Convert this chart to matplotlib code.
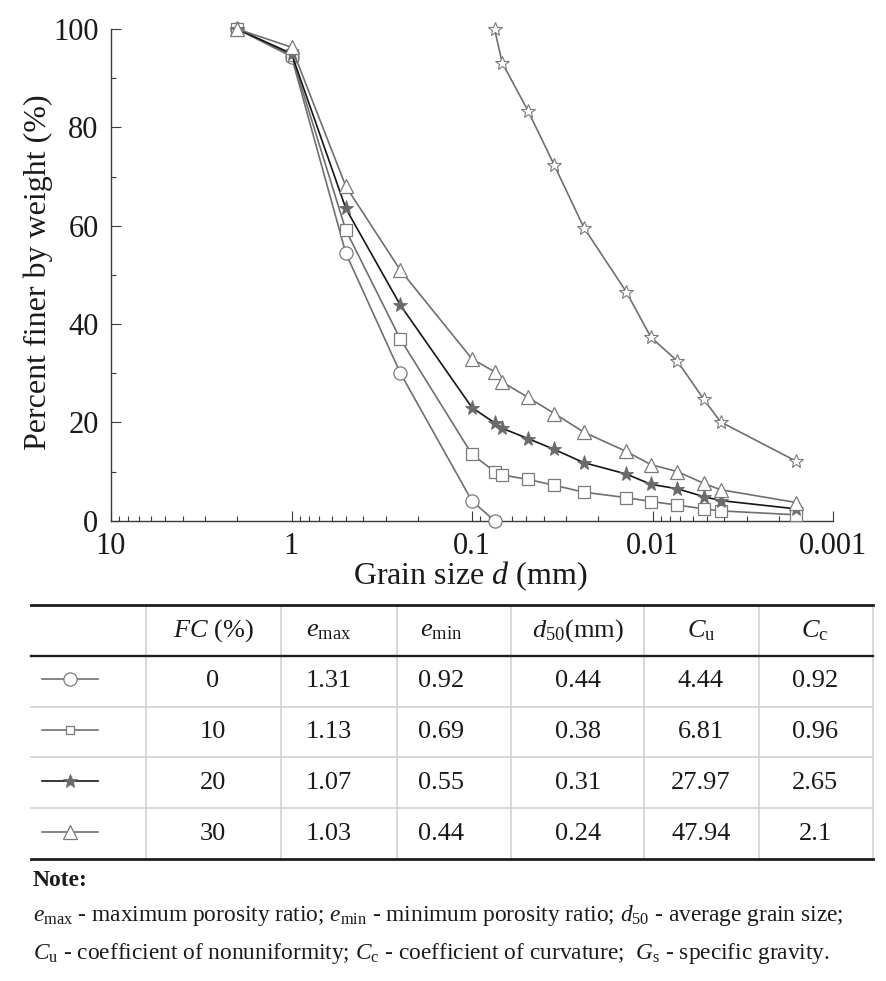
import matplotlib
matplotlib.use('Agg')
import matplotlib.pyplot as plt
from matplotlib.ticker import FixedLocator, FixedFormatter, LogLocator, NullFormatter, MultipleLocator

plt.rcParams['font.family'] = ['Liberation Serif', 'DejaVu Serif']
plt.rcParams['mathtext.fontset'] = 'custom'
plt.rcParams['mathtext.rm'] = 'Liberation Serif'
plt.rcParams['mathtext.it'] = 'Liberation Serif:italic'
plt.rcParams['mathtext.bf'] = 'Liberation Serif:bold'

# ---------------- data ----------------
sieve_d = [2, 1, 0.5, 0.25, 0.1]
hydro_d = [0.075, 0.068, 0.049, 0.035, 0.024, 0.014, 0.0102, 0.0073, 0.0052, 0.0042, 0.0016]
d_fc0 = sieve_d + [0.075]
d_mix = sieve_d + hydro_d
d_fines = hydro_d

p_fc0 = [100, 94.4, 54.4, 30.1, 4.0, 0]
p_fc10 = [100, 94.7, 59.1, 37.0, 13.5, 10.0, 9.3, 8.4, 7.2, 5.8, 4.7, 3.9, 3.2, 2.4, 2.0, 1.2]
p_fc20 = [100, 95.0, 63.5, 43.9, 23.0, 19.9, 18.8, 16.7, 14.5, 11.8, 9.5, 7.4, 6.5, 4.9, 4.1, 2.4]
p_fc30 = [100, 96.3, 68.0, 51.0, 32.9, 30.3, 28.2, 25.1, 21.8, 18.0, 14.1, 11.4, 10.0, 7.6, 6.3, 3.7]
p_fines = [100, 93.1, 83.4, 72.3, 59.6, 46.6, 37.3, 32.5, 24.7, 20.1, 12.1]

x_ticks = [10, 1, 0.1, 0.01, 0.001]
x_tick_labels = ['10', '1', '0.1', '0.01', '0.001']
y_ticks = [0, 20, 40, 60, 80, 100]

fc_values = ['0', '10', '20', '30']
e_max = ['1.31', '1.13', '1.07', '1.03']
e_min = ['0.92', '0.69', '0.55', '0.44']
d50 = ['0.44', '0.38', '0.31', '0.24']
Cu = ['4.44', '6.81', '27.97', '47.94']
Cc = ['0.92', '0.96', '2.65', '2.1']
headers = ['$\\mathit{FC}$ (%)', '$e_{\\mathrm{max}}$', '$e_{\\mathrm{min}}$',
           '$d_{50}$(mm)', '$C_{\\mathrm{u}}$', '$C_{\\mathrm{c}}$']

# ---------------- styles ----------------
GRAY = '#6f6f6f'
MGRAY = '#7a7a7a'
styles = [
    dict(marker='o', color=GRAY, mfc='white', mec=MGRAY, ms=9.5, mew=0.9),
    dict(marker='s', color=GRAY, mfc='white', mec=MGRAY, ms=8.0, mew=0.9),
    dict(marker='*', color='#151515', mfc='#6a6a6a', mec='#6a6a6a', ms=11, mew=0.6),
    dict(marker='^', color=GRAY, mfc='white', mec=MGRAY, ms=9.5, mew=0.9),
]
legend_scale = [1.0, 0.8, 0.95, 1.0]
fines_style = dict(marker='*', color=GRAY, mfc='white', mec=MGRAY, ms=10, mew=0.8)

W, H = 886, 981
fig = plt.figure(figsize=(W / 100, H / 100), dpi=100)

L, R, T, B = 111, 833, 29, 520.7
ax = fig.add_axes([L / W, 1 - B / H, (R - L) / W, (B - T) / H])

series = [(d_fc0, p_fc0), (d_mix, p_fc10), (d_mix, p_fc20), (d_mix, p_fc30)]
for (dd, pp), st in zip(series, styles):
    ax.plot(dd, pp, lw=1.2, clip_on=False, zorder=3, **st)
ax.plot(d_fines, p_fines, lw=1.2, clip_on=False, zorder=3, **fines_style)

ax.set_xscale('log')
ax.set_xlim(10, 0.001)
ax.set_ylim(0, 100)

ax.xaxis.set_major_locator(FixedLocator(x_ticks))
ax.xaxis.set_major_formatter(FixedFormatter(x_tick_labels))
ax.xaxis.set_minor_locator(LogLocator(base=10, subs=[2, 3, 4, 5, 6, 7, 8, 9]))
ax.xaxis.set_minor_formatter(NullFormatter())
ax.yaxis.set_major_locator(FixedLocator(y_ticks))
ax.yaxis.set_minor_locator(MultipleLocator(10))

for s in ['top', 'right']:
    ax.spines[s].set_visible(False)
for s in ['left', 'bottom']:
    ax.spines[s].set_color('#3a3a3a')
    ax.spines[s].set_linewidth(1.0)

ax.tick_params(axis='both', which='major', direction='in', length=7, width=0.8,
               colors='#3a3a3a', labelcolor='#1a1a1a', labelsize=22, pad=9)
ax.tick_params(axis='x', which='major', pad=8)
ax.tick_params(axis='both', which='minor', direction='in', length=3.5, width=0.8,
               colors='#3a3a3a')

ax.set_xlabel('Grain size $d$ (mm)', fontsize=23, color='#1a1a1a')
ax.set_ylabel('Percent finer by weight (%)', fontsize=23, color='#1a1a1a')
ax.xaxis.set_label_coords(0.497, -0.079)
ax.yaxis.set_label_coords(-0.081, 0.505)

# ---------------- table ----------------
tab = fig.add_axes([0, 0, 1, 1], facecolor='none')
tab.set_xlim(0, W)
tab.set_ylim(H, 0)
tab.axis('off')

x0, x1 = 31, 873
y_top, y_head, y_bot = 605, 656, 859
row_lines = [707, 757, 808]
vlines = [146, 281, 397, 511, 644, 759, 873]
DARK = '#1e1e1e'
LIGHT = '#cfcfcf'

for xv in vlines:
    tab.plot([xv, xv], [y_top, y_bot], color=LIGHT, lw=1.1, zorder=1)
for yv in row_lines:
    tab.plot([x0, x1], [yv, yv], color=LIGHT, lw=1.1, zorder=1)
tab.plot([x0, x1], [y_top, y_top], color=DARK, lw=2.0, zorder=2)
tab.plot([x0, x1], [y_head, y_head], color=DARK, lw=1.7, zorder=2)
tab.plot([x0, x1], [y_bot, y_bot], color=DARK, lw=2.0, zorder=2)

col_x = [213, 329, 441, 578, 701, 815]
head_y = 631
row_y = [681, 732, 783, 834]
for cx, h in zip(col_x, headers):
    tab.text(cx, head_y, h, ha='center', va='center', fontsize=19, color='#1a1a1a')

cols = [fc_values, e_max, e_min, d50, Cu, Cc]
for i, ry in enumerate(row_y):
    for cx, col in zip(col_x, cols):
        tab.text(cx, ry, col[i], ha='center', va='center', fontsize=19, color='#1a1a1a')
    st = styles[i]
    tab.plot([42, 98], [ry - 2, ry - 2], lw=1.2, marker='None', color=st['color'])
    tab.plot([70], [ry - 2], ls='None', marker=st['marker'], mfc=st['mfc'],
             mec=st['mec'], ms=st['ms'] * legend_scale[i], mew=st['mew'])

# ---------------- note ----------------
tab.text(33, 881, 'Note:', fontsize=17, fontweight='bold', ha='left', va='center', color='#1a1a1a')
tab.text(33, 916, '$e_{\\mathrm{max}}$ - maximum porosity ratio; $e_{\\mathrm{min}}$ - minimum porosity ratio; '
         '$d_{50}$ - average grain size;', fontsize=16.8, ha='left', va='center', color='#1a1a1a')
tab.text(33, 954, '$C_{\\mathrm{u}}$ - coefficient of nonuniformity; $C_{\\mathrm{c}}$ - coefficient of curvature;  '
         '$G_{\\mathrm{s}}$ - specific gravity.', fontsize=16.8, ha='left', va='center', color='#1a1a1a')

fig.savefig('out.png', dpi=100)
